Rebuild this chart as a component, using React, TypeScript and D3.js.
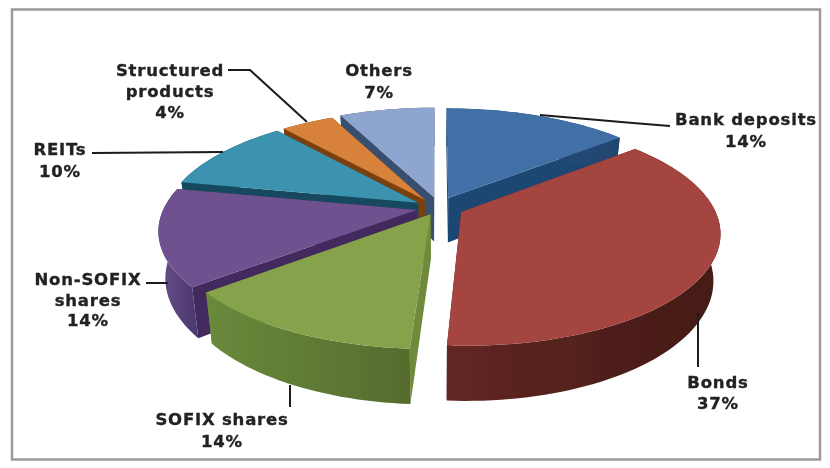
import React from "react";
import * as d3 from "d3";

const categories = ["Bank deposits", "Bonds", "SOFIX shares", "Non-SOFIX shares", "REITs", "Structured products", "Others"];
const shares = [14, 37, 13.2, 14, 10.6, 4, 7.2];
const explodeU = [0.045, 0.095, -0.025, -0.08, -0.075, -0.048, -0.012];
const explodeV = [-0.074, 0.055, 0.075, 0.037, -0.03, -0.055, -0.083];
const topColors = ["#3f6fa6", "#a54441", "#86a24b", "#6f5190", "#3a93b0", "#d8813a", "#8ea6cf"];
const radialColors = ["#1f4673", "#5e2522", "#6f8a3a", "#43295f", "#174a5f", "#7a3f10", "#384f70"];
const wallLight = ["#2f5580", "#622622", "#6a8a3c", "#6a4f8c", "#174a5f", "#7a3f10", "#384f70"];
const wallDark = ["#1f4570", "#431a16", "#566c2e", "#4e3a70", "#174a5f", "#7a3f10", "#384f70"];
const paintOrder = [6, 5, 4, 0, 3, 2, 1];

const W = 830, H = 468;
const cx = 437, cy = 206, R = 252, Ry = 108, k = 0.175, D = 45, bottomShrink = 0.025;

const pieAngles = d3.pie<number>().sort(null).startAngle(0).endAngle(2 * Math.PI)(shares);
const lineGen = d3.line<[number, number]>();

function project(u: number, v: number, ox: number, oy: number, z = 0): [number, number] {
  const vv = v + oy;
  const uu = u + ox;
  const s = 1 / (1 - k * vv);
  return [cx + R * uu * s * (1 - bottomShrink * z), cy + Ry * vv * s + z * D * s];
}
const unit = (a: number): [number, number] => [Math.sin(a), -Math.cos(a)];

const labelBlocks = [
  { lines: ["Bank deposits", "14%"], x: 746, y: 125, dy: 22 },
  { lines: ["Bonds", "37%"], x: 718, y: 388, dy: 21 },
  { lines: ["SOFIX shares", "14%"], x: 222, y: 425, dy: 22 },
  { lines: ["Non-SOFIX", "shares", "14%"], x: 88, y: 285, dy: 20.5 },
  { lines: ["REITs", "10%"], x: 60, y: 155, dy: 22 },
  { lines: ["Structured", "products", "4%"], x: 170, y: 76, dy: 21 },
  { lines: ["Others", "7%"], x: 379, y: 76, dy: 22 },
];
const leaders: [number, number][][] = [
  [[540, 115], [633, 123], [670, 126]],
  [[698, 313], [698, 367]],
  [[290, 385], [290, 407]],
  [[146, 283], [168, 283]],
  [[92, 153], [223, 152]],
  [[228, 70], [250, 70], [307, 122]],
];

function Slice({ i }: { i: number }) {
  const p = pieAngles[i];
  const a0 = p.startAngle, a1 = p.endAngle;
  const ox = explodeU[i], oy = explodeV[i];
  const n = Math.max(8, Math.round((a1 - a0) / 0.03));
  const angles = d3.range(n + 1).map((j) => a0 + ((a1 - a0) * j) / n);
  const rim = angles.map((a) => {
    const [u, v] = unit(a);
    return project(u, v, ox, oy);
  });
  const rimLow = angles.map((a) => {
    const [u, v] = unit(a);
    return project(u, v, ox, oy, 1);
  });
  const apex = project(0, 0, ox, oy);
  const apexLow = project(0, 0, ox, oy, 1);
  const top = lineGen([apex, ...rim]) + "Z";
  const outer = lineGen([...rim, ...rimLow.slice().reverse()]) + "Z";
  const side0 = lineGen([apex, rim[0], rimLow[0], apexLow]) + "Z";
  const side1 = lineGen([apex, rim[n], rimLow[n], apexLow]) + "Z";
  const xs = rim.map((d) => d[0]);
  const gid = `wall${i}`;
  return (
    <g>
      <defs>
        <linearGradient id={gid} gradientUnits="userSpaceOnUse" x1={d3.min(xs)} x2={d3.max(xs)} y1={0} y2={0}>
          <stop offset="0" stopColor={wallLight[i]} />
          <stop offset="1" stopColor={wallDark[i]} />
        </linearGradient>
      </defs>
      <path d={side0} fill={radialColors[i]} />
      <path d={side1} fill={radialColors[i]} />
      <path d={outer} fill={`url(#${gid})`} />
      <path d={top} fill={topColors[i]} />
    </g>
  );
}

export default function App() {
  return (
    <svg
      width={W}
      height={H}
      viewBox={`0 0 ${W} ${H}`}
      style={{ position: "absolute", left: 0, top: 0, background: "#fff" }}
      aria-label={categories.join(", ")}
    >
      <defs>
        <filter id="soft" x="-5%" y="-5%" width="110%" height="110%">
          <feGaussianBlur stdDeviation="0.45" />
        </filter>
      </defs>
      <rect x={12} y={9.5} width={808} height={450} fill="#fff" stroke="#9a9a9a" strokeWidth={2.5} />
      <g filter="url(#soft)">
        {paintOrder.map((i) => (
          <Slice key={i} i={i} />
        ))}
        {leaders.map((pts, i) => (
          <path key={i} d={lineGen(pts) as string} fill="none" stroke="#1a1a1a" strokeWidth={2} />
        ))}
        {labelBlocks.map((b, i) => (
          <text
            key={i}
            textAnchor="middle"
            fontFamily="'DejaVu Sans', Verdana, sans-serif"
            fontWeight="bold"
            fontSize={16.5}
            letterSpacing={0.8}
            fill="#222"
            stroke="#222"
            strokeWidth={0.35}
          >
            {b.lines.map((t, j) => (
              <tspan key={j} x={b.x} y={b.y + j * b.dy}>
                {t}
              </tspan>
            ))}
          </text>
        ))}
      </g>
    </svg>
  );
}
